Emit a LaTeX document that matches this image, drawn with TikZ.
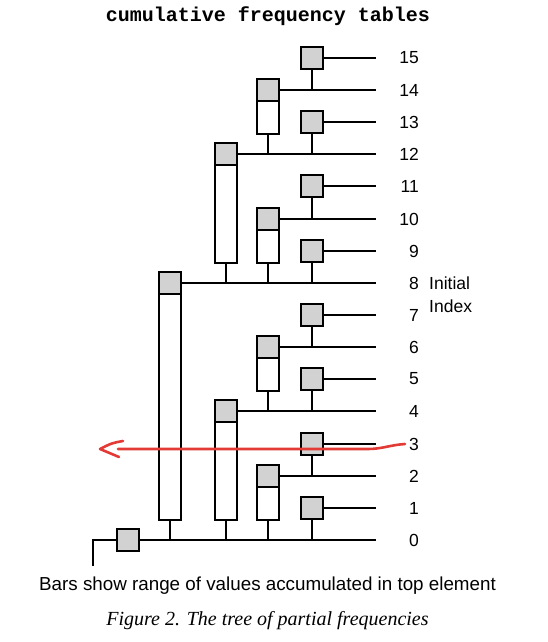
\documentclass[tikz,border=0pt]{standalone}
\usepackage{fontspec}
\setmainfont{Liberation Sans}
\newfontfamily\titlefont{Liberation Mono}
\newfontfamily\capfont{Liberation Serif}
\definecolor{boxgray}{HTML}{D2D2D2}
\definecolor{penred}{HTML}{E43A36}
\tikzset{
  cell/.style={draw=black, line width=2pt, fill=boxgray, minimum width=22pt, minimum height=22pt, inner sep=0pt},
  barbox/.style={draw=black, line width=2pt, fill=white, minimum width=22pt, inner sep=0pt, anchor=north},
  wire/.style={line width=2pt},
  num/.style={font=\fontsize{17.5}{20}\selectfont, anchor=east, inner sep=0pt},
  side/.style={font=\fontsize{17.5}{20}\selectfont, anchor=west, inner sep=0pt},
  redpen/.style={draw=penred, line width=2.6pt, line cap=round, line join=round}
}
\begin{document}
\begin{tikzpicture}[x=1pt,y=-1pt]
\useasboundingbox (0,0) rectangle (547,642);
% line ends and labels
\foreach \r/\yy in {0/540,1/508,2/476,3/444,4/411,5/379,6/347,7/315,8/283,9/251,10/219,11/186,12/154,13/122,14/90,15/58}{
  \coordinate (e\r) at (376,\yy);
  \node[num] (l\r) at (419,\yy) {\r};
}
\node[side] (init) at (429,283) {Initial};
\node[side] (index) at (429,306) {Index};
% bars
\node[barbox, minimum height=54pt] (bar14) at (268,79) {};
\node[barbox, minimum height=54pt] (bar10) at (268,208) {};
\node[barbox, minimum height=54pt] (bar6) at (268,336) {};
\node[barbox, minimum height=54pt] (bar2) at (268,465) {};
\node[barbox, minimum height=119pt] (bar12) at (226,143) {};
\node[barbox, minimum height=119pt] (bar4) at (226,400) {};
\node[barbox, minimum height=247pt] (bar8) at (170,272) {};
% boxes
\foreach \r/\yy in {1/508,3/444,5/379,7/315,9/251,11/186,13/122,15/58}{
  \node[cell] (b\r) at (312,\yy) {};
}
\foreach \r/\yy in {2/476,6/347,10/219,14/90}{
  \node[cell] (b\r) at (268,\yy) {};
}
\node[cell] (b4) at (226,411) {};
\node[cell] (b12) at (226,154) {};
\node[cell] (b8) at (170,283) {};
\node[cell] (b0) at (128,540) {};
% horizontal wires
\foreach \r in {0,...,15}{
  \draw[wire] (b\r.east) -- (e\r);
}
% vertical wires
\draw[wire] (b15.south) -- (b15.south |- e14);
\draw[wire] (b13.south) -- (b13.south |- e12);
\draw[wire] (bar14.south) -- (bar14.south |- e12);
\draw[wire] (b11.south) -- (b11.south |- e10);
\draw[wire] (b9.south) -- (b9.south |- e8);
\draw[wire] (bar10.south) -- (bar10.south |- e8);
\draw[wire] (bar12.south) -- (bar12.south |- e8);
\draw[wire] (b7.south) -- (b7.south |- e6);
\draw[wire] (b5.south) -- (b5.south |- e4);
\draw[wire] (bar6.south) -- (bar6.south |- e4);
\draw[wire] (b3.south) -- (b3.south |- e2);
\draw[wire] (b1.south) -- (b1.south |- e0);
\draw[wire] (bar2.south) -- (bar2.south |- e0);
\draw[wire] (bar4.south) -- (bar4.south |- e0);
\draw[wire] (bar8.south) -- (bar8.south |- e0);
\coordinate (k1) at (93,540);
\coordinate (k2) at (93,566);
\draw[wire] (b0.west) -- (k1) -- (k2);
% texts
\node[font=\titlefont\bfseries\fontsize{20}{24}\selectfont, anchor=base, inner sep=0pt] (title) at (268,21.5) {cumulative frequency tables};
\node[font=\fontsize{18.8}{22}\selectfont, anchor=base, inner sep=0pt] (cap1) at (267.5,590) {Bars show range of values accumulated in top element};
\node[font=\capfont\itshape\fontsize{20}{24}\selectfont, anchor=base, inner sep=0pt] (cap2) at (267.5,625) {Figure 2. The tree of partial frequencies};
% red arrow
\coordinate (rs) at (405,444);
\coordinate (rm) at (368,449);
\coordinate (re) at (118,449);
\coordinate (tip) at (100,449);
\coordinate (arm1) at (123,441);
\coordinate (arm2) at (119,457);
\draw[redpen] (rs) .. controls (390,445) and (382,449) .. (rm) -- (re);
\draw[redpen] (arm1) .. controls (112,443) .. (tip) -- (arm2);
\end{tikzpicture}
\end{document}
